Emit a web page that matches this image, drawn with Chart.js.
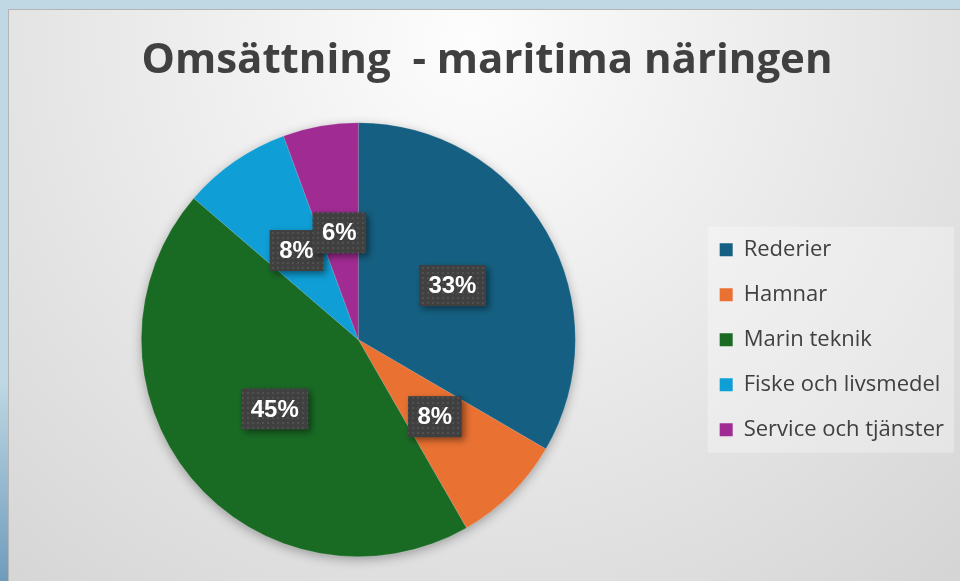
<!DOCTYPE html>
<html lang="sv">
<head>
    <meta charset="UTF-8" />
    <title>Omsättning - maritima näringen</title>
    <script src="https://cdn.jsdelivr.net/npm/chart.js"></script>
    <style>
        html, body { margin: 0; padding: 0; background: #bfd8e4; }
        .chart-wrap { width: 960px; height: 581px; }
    </style>
</head>
<body>
<div class="chart-wrap">
    <canvas id="pieChart" width="960" height="581"></canvas>
</div>

<script>
    // Data
    const categories = ["Rederier", "Hamnar", "Marin teknik", "Fiske och livsmedel", "Service och tjänster"];
    const shares = [33.4, 8.3, 44.6, 8.1, 5.6];
    const sliceColors = ["#156082", "#E97132", "#196B24", "#0F9ED5", "#A02B93"];
    const chartTitle = "Omsättning  - maritima näringen";

    // Dotted fill for the percentage boxes
    const dotTile = document.createElement("canvas");
    dotTile.width = 5;
    dotTile.height = 5;
    const tileCtx = dotTile.getContext("2d");
    tileCtx.fillStyle = "#404040";
    tileCtx.fillRect(0, 0, 5, 5);
    tileCtx.fillStyle = "#505050";
    tileCtx.fillRect(2, 2, 2, 2);

    // Slide background + legend backdrop
    const panelBackground = {
        id: "panelBackground",
        beforeDraw(chart) {
            const { ctx, width, height } = chart;
            ctx.save();
            ctx.fillStyle = "#bfd8e4";
            ctx.fillRect(0, 0, width, height);
            const side = ctx.createLinearGradient(0, 380, 0, height);
            side.addColorStop(0, "#bfd8e4");
            side.addColorStop(1, "#6f9cbc");
            ctx.fillStyle = side;
            ctx.fillRect(0, 380, 9, height - 380);

            const g = ctx.createRadialGradient(470, 40, 0, 470, 40, 760);
            g.addColorStop(0, "#fdfdfd");
            g.addColorStop(1, "#d3d3d3");
            ctx.fillStyle = g;
            ctx.fillRect(9, 10, width - 9, height - 10);
            ctx.strokeStyle = "#b4b4b4";
            ctx.lineWidth = 1;
            ctx.beginPath();
            ctx.moveTo(8.5, height);
            ctx.lineTo(8.5, 9.5);
            ctx.lineTo(width, 9.5);
            ctx.stroke();

            const boxes = chart.legend && chart.legend.legendHitBoxes;
            if (boxes && boxes.length) {
                const left = Math.min(...boxes.map(b => b.left)) - 12;
                const right = Math.max(...boxes.map(b => b.left + b.width)) + 10;
                const top = boxes[0].top - 12;
                const bottom = boxes[boxes.length - 1].top + boxes[boxes.length - 1].height + 12;
                ctx.fillStyle = "rgba(255,255,255,0.3)";
                ctx.fillRect(left, top, right - left, bottom - top);
            }
            ctx.restore();
        }
    };

    // Soft shadow under the pie
    const pieShadow = {
        id: "pieShadow",
        beforeDatasetsDraw(chart) {
            const arc = chart.getDatasetMeta(0).data[0];
            if (!arc) return;
            const { x, y, outerRadius } = arc.getProps(["x", "y", "outerRadius"], true);
            const ctx = chart.ctx;
            ctx.save();
            ctx.shadowColor = "rgba(0,0,0,0.35)";
            ctx.shadowBlur = 12;
            ctx.shadowOffsetY = 3;
            ctx.fillStyle = "#777";
            ctx.beginPath();
            ctx.arc(x, y, outerRadius - 1, 0, Math.PI * 2);
            ctx.fill();
            ctx.restore();
        }
    };

    // Percentage labels in dark boxes
    const percentLabels = {
        id: "percentLabels",
        afterDatasetsDraw(chart) {
            const ctx = chart.ctx;
            const meta = chart.getDatasetMeta(0);
            const values = chart.data.datasets[0].data;
            const total = values.reduce((a, b) => a + b, 0);
            const pattern = ctx.createPattern(dotTile, "repeat");
            ctx.save();
            ctx.font = "bold 24px 'Liberation Sans', Arial, sans-serif";
            ctx.textAlign = "center";
            ctx.textBaseline = "middle";
            meta.data.forEach((arc, i) => {
                const pos = arc.tooltipPosition(true);
                const text = Math.round(values[i] / total * 100) + "%";
                const w = ctx.measureText(text).width + 19;
                const h = 41;
                ctx.save();
                ctx.shadowColor = "rgba(0,0,0,0.45)";
                ctx.shadowBlur = 7;
                ctx.shadowOffsetX = 3;
                ctx.shadowOffsetY = 3;
                ctx.fillStyle = pattern;
                ctx.fillRect(pos.x - w / 2, pos.y - h / 2, w, h);
                ctx.restore();
                ctx.fillStyle = "#ffffff";
                ctx.fillText(text, pos.x, pos.y + 1);
            });
            ctx.restore();
        }
    };

    new Chart(document.getElementById("pieChart"), {
        type: "pie",
        data: {
            labels: categories,
            datasets: [
                {
                    data: shares,
                    backgroundColor: sliceColors,
                    borderColor: "rgba(255,255,255,0.35)",
                    borderWidth: 0.5,
                },
            ],
        },
        options: {
            responsive: false,
            animation: false,
            layout: {
                padding: { left: 20, right: 6, top: 10, bottom: 24 },
            },
            plugins: {
                title: {
                    display: true,
                    text: chartTitle,
                    color: "#404040",
                    font: { family: "'Open Sans', sans-serif", size: 42, weight: "bold" },
                    padding: { top: 26, bottom: 36 },
                },
                legend: {
                    position: "right",
                    fullSize: false,
                    labels: {
                        boxWidth: 13,
                        boxHeight: 13,
                        padding: 23,
                        color: "#404040",
                        font: { family: "'Open Sans', sans-serif", size: 22 },
                        generateLabels(chart) {
                            return Chart.overrides.pie.plugins.legend.labels
                                .generateLabels(chart)
                                .map(item => ({ ...item, lineWidth: 0 }));
                        },
                    },
                },
                tooltip: { enabled: false },
            },
        },
        plugins: [panelBackground, pieShadow, percentLabels],
    });
</script>
</body>
</html>
